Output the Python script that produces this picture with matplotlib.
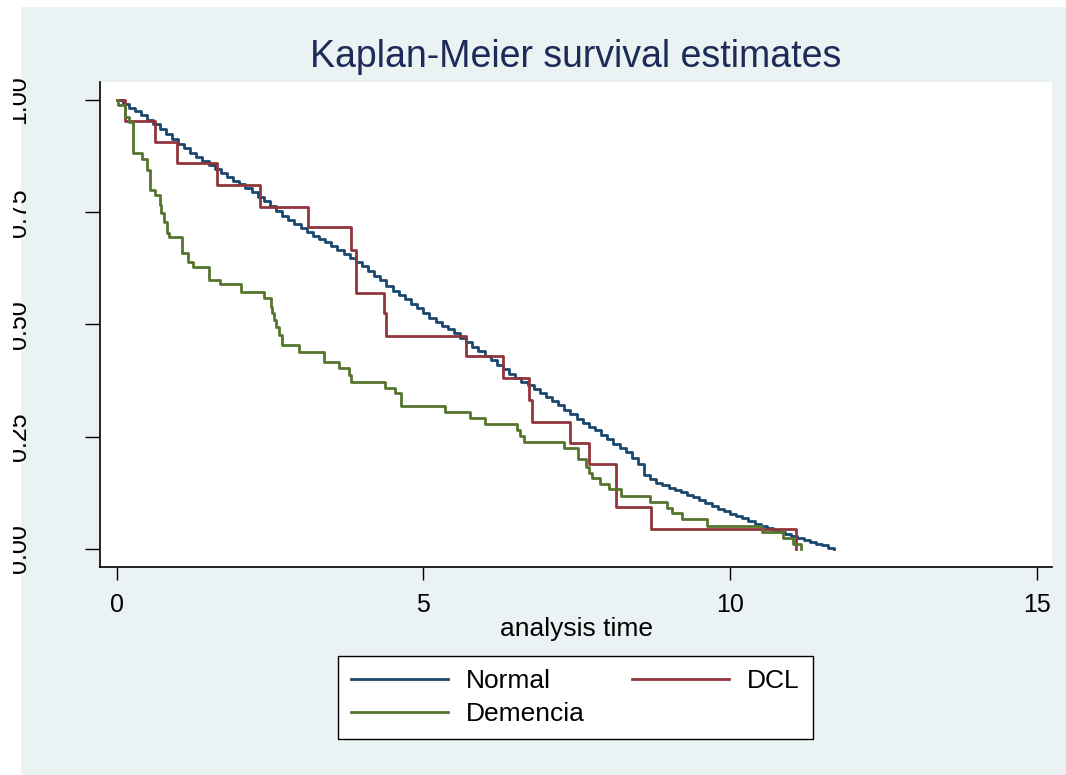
import matplotlib
matplotlib.use('Agg')
import matplotlib.pyplot as plt
from matplotlib.patches import Rectangle

plt.rcParams['font.family'] = ['Liberation Sans', 'DejaVu Sans']

# Kaplan-Meier step values (time of change, survival after it)
normal_t = [0.0, 0.1, 0.2, 0.3, 0.4, 0.5, 0.6, 0.7, 0.8, 0.9,
            1.0, 1.1, 1.2, 1.3, 1.4, 1.5, 1.6, 1.7, 1.8, 1.9,
            2.0, 2.1, 2.2, 2.3, 2.4, 2.5, 2.6, 2.7, 2.8, 2.9,
            3.0, 3.1, 3.2, 3.3, 3.4, 3.5, 3.6, 3.7, 3.8, 3.9,
            4.0, 4.1, 4.2, 4.3, 4.4, 4.5, 4.6, 4.7, 4.8, 4.9,
            5.0, 5.1, 5.2, 5.3, 5.4, 5.5, 5.6, 5.7, 5.8, 5.9,
            6.0, 6.1, 6.2, 6.3, 6.4, 6.5, 6.6, 6.7, 6.8, 6.9,
            7.0, 7.1, 7.2, 7.3, 7.4, 7.5, 7.6, 7.7, 7.8, 7.9,
            8.0, 8.1, 8.2, 8.3, 8.4, 8.5, 8.6, 8.7, 8.8, 8.9,
            9.0, 9.1, 9.2, 9.3, 9.4, 9.5, 9.6, 9.7, 9.8, 9.9,
            10.0, 10.1, 10.2, 10.3, 10.4, 10.5, 10.6, 10.7, 10.8, 10.9,
            11.0, 11.1, 11.2, 11.3, 11.4, 11.5, 11.6, 11.7]
normal_s = [1.0, 0.992, 0.983, 0.975, 0.966, 0.955, 0.946, 0.935, 0.924, 0.913,
            0.903, 0.893, 0.883, 0.872, 0.863, 0.855, 0.847, 0.838, 0.829, 0.820,
            0.812, 0.803, 0.795, 0.785, 0.774, 0.763, 0.752, 0.742, 0.733, 0.724,
            0.715, 0.706, 0.698, 0.690, 0.683, 0.675, 0.665, 0.656, 0.648, 0.640,
            0.630, 0.620, 0.609, 0.598, 0.586, 0.574, 0.565, 0.556, 0.546, 0.536,
            0.525, 0.515, 0.506, 0.497, 0.489, 0.480, 0.470, 0.460, 0.450, 0.440,
            0.430, 0.420, 0.410, 0.400, 0.390, 0.380, 0.373, 0.365, 0.357, 0.348,
            0.339, 0.330, 0.320, 0.310, 0.300, 0.290, 0.281, 0.272, 0.264, 0.255,
            0.245, 0.235, 0.225, 0.215, 0.203, 0.190, 0.165, 0.156, 0.148, 0.142,
            0.137, 0.132, 0.127, 0.121, 0.115, 0.109, 0.103, 0.096, 0.090, 0.084,
            0.078, 0.073, 0.068, 0.062, 0.056, 0.051, 0.046, 0.042, 0.038, 0.034,
            0.030, 0.025, 0.020, 0.016, 0.012, 0.008, 0.003, 0.0]

dcl_t = [0, 0.13, 0.62, 0.98, 1.63, 2.34, 3.12, 3.82, 3.91, 4.36, 4.39, 5.70,
         6.30, 6.72, 6.77, 7.39, 7.71, 8.14, 8.72, 11.08]
dcl_s = [1.0, 0.953, 0.906, 0.860, 0.811, 0.762, 0.717, 0.666, 0.570, 0.526,
         0.474, 0.430, 0.381, 0.332, 0.283, 0.236, 0.189, 0.094, 0.045, 0.0]

dem_t = [0, 0.02, 0.13, 0.20, 0.26, 0.42, 0.49, 0.54, 0.62, 0.70, 0.73, 0.78,
         0.83, 0.86, 1.06, 1.17, 1.24, 1.50, 1.68, 2.03, 2.41, 2.51, 2.54,
         2.57, 2.60, 2.64, 2.70, 2.98, 3.38, 3.63, 3.79, 3.82, 4.38, 4.54,
         4.64, 5.35, 5.76, 6.00, 6.53, 6.57, 6.64, 7.29, 7.53, 7.65, 7.71,
         7.75, 7.88, 8.02, 8.22, 8.69, 8.97, 9.05, 9.21, 9.62, 10.53, 10.87,
         11.02, 11.16]
dem_s = [1.0, 0.989, 0.962, 0.951, 0.882, 0.869, 0.844, 0.800, 0.788, 0.766,
         0.748, 0.728, 0.704, 0.695, 0.659, 0.639, 0.628, 0.599, 0.590, 0.572,
         0.559, 0.539, 0.526, 0.510, 0.494, 0.477, 0.454, 0.439, 0.416, 0.403,
         0.388, 0.372, 0.359, 0.347, 0.318, 0.305, 0.292, 0.278, 0.265, 0.252,
         0.238, 0.225, 0.200, 0.183, 0.169, 0.158, 0.145, 0.134, 0.118, 0.105,
         0.091, 0.080, 0.067, 0.051, 0.038, 0.024, 0.011, 0.0]

xticks = [0, 5, 10, 15]
yticks = [0, 0.25, 0.5, 0.75, 1.0]
ytick_labels = ['0.00', '0.25', '0.50', '0.75', '1.00']

W, H = 1066, 775
fig = plt.figure(figsize=(W / 100, H / 100), dpi=100, facecolor='white')

# graph region background
fig.patches.append(Rectangle((21 / W, 0), 1 - 21 / W, 1 - 7 / H,
                             transform=fig.transFigure, facecolor='#EAF2F3',
                             edgecolor='none', zorder=-10))

ax = fig.add_axes([100 / W, 1 - 567 / H, 952 / W, 485 / H])
ax.set_facecolor('white')

ax.step(normal_t, normal_s, where='post', color='#1A476F', lw=2.0, label='Normal')
ax.step(dcl_t, dcl_s, where='post', color='#90353B', lw=2.0, label='DCL')
ax.step(dem_t, dem_s, where='post', color='#55752F', lw=2.0, label='Demencia')

ax.set_xlim(-0.27, 15.25)
ax.set_ylim(-0.04, 1.04)
ax.set_xticks(xticks)
ax.set_xticklabels([str(t) for t in xticks], fontsize=18)
ax.set_yticks(yticks)
ax.set_yticklabels(ytick_labels, fontsize=18, rotation=90, va='center')
ax.tick_params(axis='x', length=9, width=1, pad=10)
ax.tick_params(axis='y', length=11, width=1, pad=39)

for side in ['top', 'right']:
    ax.spines[side].set_visible(False)
for side in ['left', 'bottom']:
    ax.spines[side].set_linewidth(1.2)

ax.set_xlabel('analysis time', fontsize=19, labelpad=0)

fig.text(576 / W, 1 - 57 / H, 'Kaplan-Meier survival estimates', fontsize=27,
         color='#1C2B57', ha='center', va='center')

h, l = ax.get_legend_handles_labels()
order = [0, 2, 1]
leg = fig.legend([h[i] for i in order], [l[i] for i in order], ncol=2,
                 loc='center', mode='expand', borderaxespad=0,
                 bbox_to_anchor=(338 / W, 1 - 741 / H, 475 / W, 87 / H),
                 fontsize=19, frameon=True, fancybox=False, edgecolor='black',
                 facecolor='white', framealpha=1,
                 handlelength=3.65, handletextpad=0.7, columnspacing=0.9,
                 borderpad=0.5, labelspacing=0.35)
leg.get_frame().set_linewidth(1.0)

# left margin of the exported graph
fig.patches.append(Rectangle((0, 0), 13 / W, 1, transform=fig.transFigure,
                             facecolor='white', edgecolor='none', zorder=10))

plt.savefig('out.png', dpi=100)
